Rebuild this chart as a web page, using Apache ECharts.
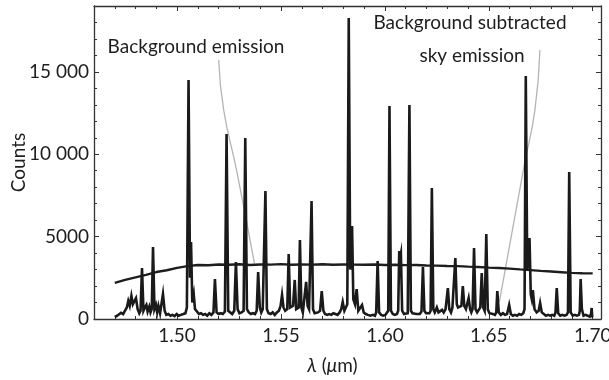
<!DOCTYPE html>
<html>
<head>
<meta charset="utf-8">
<script src="https://cdn.jsdelivr.net/npm/echarts@6/dist/echarts.min.js"></script>
<style>
  html, body { margin: 0; padding: 0; background: #fff; }
  #chart { width: 609px; height: 380px; }
</style>
</head>
<body>
<div id="chart"></div>
<script>
// sky spectrum: [wavelength (µm), counts]
const skyEmission = [
  [1.4700, 120], [1.4712, 200], [1.4720, 150], [1.4730, 380], [1.4740, 300], [1.4750, 520],
  [1.4758, 700], [1.4765, 1100], [1.4772, 800], [1.4780, 1400], [1.4787, 900], [1.4795, 1000],
  [1.4802, 1270], [1.4810, 600], [1.4818, 350], [1.4824, 500], [1.4831, 3100], [1.4838, 500],
  [1.4845, 700], [1.4852, 850], [1.4858, 450], [1.4866, 750], [1.4872, 400], [1.4878, 600],
  [1.4884, 4370], [1.4891, 600], [1.4898, 850], [1.4904, 400], [1.4910, 800], [1.4918, 350],
  [1.4925, 450], [1.4932, 1520], [1.4940, 500], [1.4948, 250], [1.4958, 300], [1.4968, 200],
  [1.4978, 250], [1.4988, 180], [1.4998, 300], [1.5008, 200], [1.5018, 250], [1.5030, 300],
  [1.5040, 350], [1.5047, 700], [1.5055, 14500], [1.5062, 2500], [1.5067, 4680], [1.5073, 1000],
  [1.5080, 1500], [1.5086, 600], [1.5095, 500], [1.5105, 300], [1.5115, 350], [1.5125, 250],
  [1.5135, 300], [1.5145, 200], [1.5155, 350], [1.5165, 250], [1.5175, 400], [1.5182, 2430],
  [1.5190, 400], [1.5200, 300], [1.5210, 350], [1.5220, 300], [1.5230, 450], [1.5238, 11230],
  [1.5246, 500], [1.5255, 400], [1.5265, 300], [1.5275, 500], [1.5283, 3460], [1.5291, 600],
  [1.5300, 350], [1.5310, 400], [1.5320, 500], [1.5328, 10990], [1.5336, 600], [1.5345, 400],
  [1.5355, 300], [1.5365, 350], [1.5375, 300], [1.5383, 500], [1.5390, 2850], [1.5398, 700],
  [1.5405, 400], [1.5412, 600], [1.5418, 500], [1.5425, 7770], [1.5432, 600], [1.5440, 350],
  [1.5450, 300], [1.5460, 400], [1.5470, 250], [1.5480, 400], [1.5490, 500], [1.5498, 800],
  [1.5505, 1460], [1.5512, 700], [1.5520, 500], [1.5530, 600], [1.5537, 3950], [1.5544, 700],
  [1.5550, 600], [1.5558, 800], [1.5566, 2370], [1.5573, 600], [1.5580, 500], [1.5585, 700],
  [1.5591, 4800], [1.5598, 700], [1.5605, 400], [1.5612, 500], [1.5621, 2250], [1.5628, 800],
  [1.5635, 600], [1.5640, 700], [1.5647, 7160], [1.5654, 600], [1.5662, 350], [1.5670, 300],
  [1.5678, 400], [1.5688, 500], [1.5696, 1700], [1.5704, 500], [1.5712, 300], [1.5722, 250],
  [1.5732, 300], [1.5742, 250], [1.5752, 350], [1.5762, 300], [1.5772, 250], [1.5782, 400],
  [1.5790, 600], [1.5797, 1030], [1.5805, 500], [1.5812, 700], [1.5819, 900], [1.5826, 18270],
  [1.5833, 3000], [1.5838, 3000], [1.5842, 5650], [1.5848, 1200], [1.5856, 900], [1.5864, 1820],
  [1.5872, 500], [1.5880, 400], [1.5890, 850], [1.5898, 400], [1.5908, 300], [1.5918, 250],
  [1.5930, 200], [1.5942, 250], [1.5952, 200], [1.5958, 400], [1.5965, 3520], [1.5972, 400],
  [1.5982, 250], [1.5992, 200], [1.6002, 250], [1.6010, 300], [1.6016, 500], [1.6022, 12930],
  [1.6029, 500], [1.6038, 300], [1.6048, 250], [1.6058, 300], [1.6064, 500], [1.6069, 4130],
  [1.6073, 3700], [1.6077, 3960], [1.6083, 500], [1.6092, 300], [1.6100, 250], [1.6110, 350],
  [1.6118, 12990], [1.6125, 500], [1.6133, 350], [1.6142, 250], [1.6152, 300], [1.6160, 250],
  [1.6168, 300], [1.6176, 450], [1.6183, 3160], [1.6190, 500], [1.6198, 350], [1.6206, 300],
  [1.6214, 350], [1.6220, 500], [1.6226, 7950], [1.6233, 600], [1.6240, 400], [1.6250, 700],
  [1.6258, 400], [1.6266, 350], [1.6275, 550], [1.6283, 400], [1.6292, 600], [1.6298, 700],
  [1.6303, 1880], [1.6310, 600], [1.6318, 400], [1.6325, 700], [1.6332, 800], [1.6339, 3700],
  [1.6346, 900], [1.6352, 700], [1.6360, 600], [1.6368, 800], [1.6375, 2000], [1.6382, 800],
  [1.6390, 600], [1.6396, 700], [1.6403, 1270], [1.6410, 600], [1.6416, 400], [1.6422, 600],
  [1.6429, 4310], [1.6436, 600], [1.6444, 400], [1.6452, 500], [1.6459, 700], [1.6466, 2790],
  [1.6473, 700], [1.6480, 500], [1.6488, 5160], [1.6495, 600], [1.6503, 350], [1.6512, 250],
  [1.6520, 300], [1.6530, 250], [1.6536, 400], [1.6541, 1700], [1.6548, 400], [1.6558, 250],
  [1.6568, 350], [1.6578, 250], [1.6588, 300], [1.6598, 850], [1.6606, 300], [1.6616, 200],
  [1.6626, 250], [1.6636, 200], [1.6646, 300], [1.6656, 250], [1.6666, 350], [1.6672, 600],
  [1.6678, 14750], [1.6685, 3000], [1.6690, 3500], [1.6696, 4920], [1.6702, 1500], [1.6707, 1200],
  [1.6712, 1760], [1.6720, 600], [1.6730, 400], [1.6740, 500], [1.6747, 970], [1.6755, 400],
  [1.6765, 300], [1.6775, 200], [1.6785, 250], [1.6795, 200], [1.6805, 250], [1.6815, 200],
  [1.6821, 400], [1.6827, 1880], [1.6834, 350], [1.6844, 200], [1.6854, 250], [1.6864, 200],
  [1.6874, 250], [1.6881, 400], [1.6887, 8920], [1.6894, 400], [1.6904, 200], [1.6914, 250],
  [1.6924, 200], [1.6934, 250], [1.6938, 500], [1.6942, 2430], [1.6948, 600], [1.6956, 200],
  [1.6966, 250], [1.6976, 200], [1.6986, 150], [1.6992, 300], [1.6995, 670], [1.6998, 100]
];

// thermal background: [wavelength, counts]
const backgroundEmission = [
  [1.470, 2190], [1.475, 2380], [1.480, 2530], [1.485, 2680], [1.490, 2850], [1.495, 2960],
  [1.500, 3100], [1.505, 3210], [1.510, 3280], [1.515, 3260], [1.520, 3310], [1.525, 3290],
  [1.530, 3320], [1.535, 3280], [1.540, 3310], [1.545, 3300], [1.550, 3330], [1.555, 3290],
  [1.560, 3310], [1.565, 3300], [1.570, 3320], [1.575, 3290], [1.580, 3310], [1.585, 3300],
  [1.590, 3290], [1.595, 3310], [1.600, 3280], [1.605, 3290], [1.610, 3270], [1.615, 3280],
  [1.620, 3250], [1.625, 3240], [1.630, 3220], [1.635, 3210], [1.640, 3180], [1.645, 3160],
  [1.650, 3120], [1.655, 3100], [1.660, 3060], [1.665, 3010], [1.670, 2970], [1.675, 2920],
  [1.680, 2880], [1.685, 2840], [1.690, 2800], [1.695, 2780], [1.700, 2770]
];

// leader lines for the labels (data coords)
const bgLeader = [[1.5200, 15720], [1.5224, 12690], [1.5286, 9040], [1.5372, 3380]];
const skyLeader = [[1.6746, 16330], [1.6722, 12690], [1.6669, 9230], [1.6551, 1050]];

const xMin = 1.46, xMax = 1.704;
const yMin = 0, yMax = 19000;
const labelBg = 'Background emission';
const labelSky = ['Background subtracted', 'sky emission'];

const FONT = 'Lato, "Open Sans", sans-serif';
const INK = '#1e1e1e';

const myChart = echarts.init(document.getElementById('chart'));

function xAxisDef(pos, major) {
  return {
    type: 'value', position: pos, min: xMin, max: xMax,
    interval: major ? undefined : 0.01,
    splitLine: { show: false },
    axisLine: { show: major, onZero: false, lineStyle: { color: '#333', width: 1.3 } },
    axisTick: { inside: true, length: major ? 5 : 3, lineStyle: { color: '#333', width: 1 } },
    axisLabel: {
      show: major && pos === 'bottom', margin: 7, showMinLabel: false, showMaxLabel: false,
      fontFamily: FONT, fontSize: 19, color: INK,
      formatter: v => v.toFixed(2)
    }
  };
}

function yAxisDef(pos, major) {
  return {
    type: 'value', position: pos, min: yMin, max: yMax,
    interval: major ? 5000 : 1000,
    splitLine: { show: false },
    axisLine: { show: major, onZero: false, lineStyle: { color: '#333', width: 1.3 } },
    axisTick: { inside: true, length: major ? 5 : 3, lineStyle: { color: '#333', width: 1 } },
    axisLabel: {
      show: major && pos === 'left', margin: 5, showMaxLabel: false,
      fontFamily: FONT, fontSize: 19, color: INK,
      formatter: v => v >= 10000 ? String(v).replace(/(\d{3})$/, ' $1') : String(v)
    }
  };
}

const xAxes = [xAxisDef('bottom', true), xAxisDef('bottom', false), xAxisDef('top', true), xAxisDef('top', false)];
xAxes[0].name = '{i|λ} ({i|μ}m)';
xAxes[0].nameLocation = 'middle';
xAxes[0].nameGap = 37;
xAxes[0].nameTextStyle = {
  fontFamily: FONT, fontSize: 19, color: INK, padding: [0, 30, 0, 0],
  rich: { i: { fontFamily: FONT, fontSize: 19, fontStyle: 'italic', color: INK } }
};

const yAxes = [yAxisDef('left', true), yAxisDef('left', false), yAxisDef('right', true), yAxisDef('right', false)];
yAxes[0].name = 'Counts';
yAxes[0].nameLocation = 'middle';
yAxes[0].nameGap = 66;
yAxes[0].nameMoveOverlap = false;
yAxes[0].nameTextStyle = { fontFamily: FONT, fontSize: 19, color: INK };

myChart.setOption({
  animation: false,
  grid: { left: 94, right: 8, top: 6, bottom: 61, containLabel: false, outerBoundsMode: 'none' },
  xAxis: xAxes,
  yAxis: yAxes,
  series: [
    {
      name: 'leaderBg', type: 'line', data: bgLeader, smooth: true, symbol: 'none', silent: true,
      lineStyle: { color: '#b4b4b4', width: 1.3 }, z: 1
    },
    {
      name: 'leaderSky', type: 'line', data: skyLeader, smooth: true, symbol: 'none', silent: true,
      lineStyle: { color: '#b4b4b4', width: 1.3 }, z: 1
    },
    {
      name: 'Background emission', type: 'line', data: backgroundEmission, symbol: 'none',
      lineStyle: { color: '#1e1e1e', width: 2.4 }, z: 2
    },
    {
      name: 'Sky emission', type: 'line', data: skyEmission, symbol: 'none',
      lineStyle: { color: '#1a1a1a', width: 2.6, join: 'miter' }, z: 3
    }
  ],
  graphic: [
    {
      type: 'text', x: 196, y: 47,
      style: { text: labelBg, font: '19px ' + FONT, fill: INK, align: 'center', verticalAlign: 'middle' }
    },
    {
      type: 'text', x: 470, y: 23,
      style: { text: labelSky[0], font: '19px ' + FONT, fill: INK, align: 'center', verticalAlign: 'middle' }
    },
    {
      type: 'text', x: 472, y: 56,
      style: { text: labelSky[1], font: '19px ' + FONT, fill: INK, align: 'center', verticalAlign: 'middle' }
    }
  ]
});
</script>
</body>
</html>
